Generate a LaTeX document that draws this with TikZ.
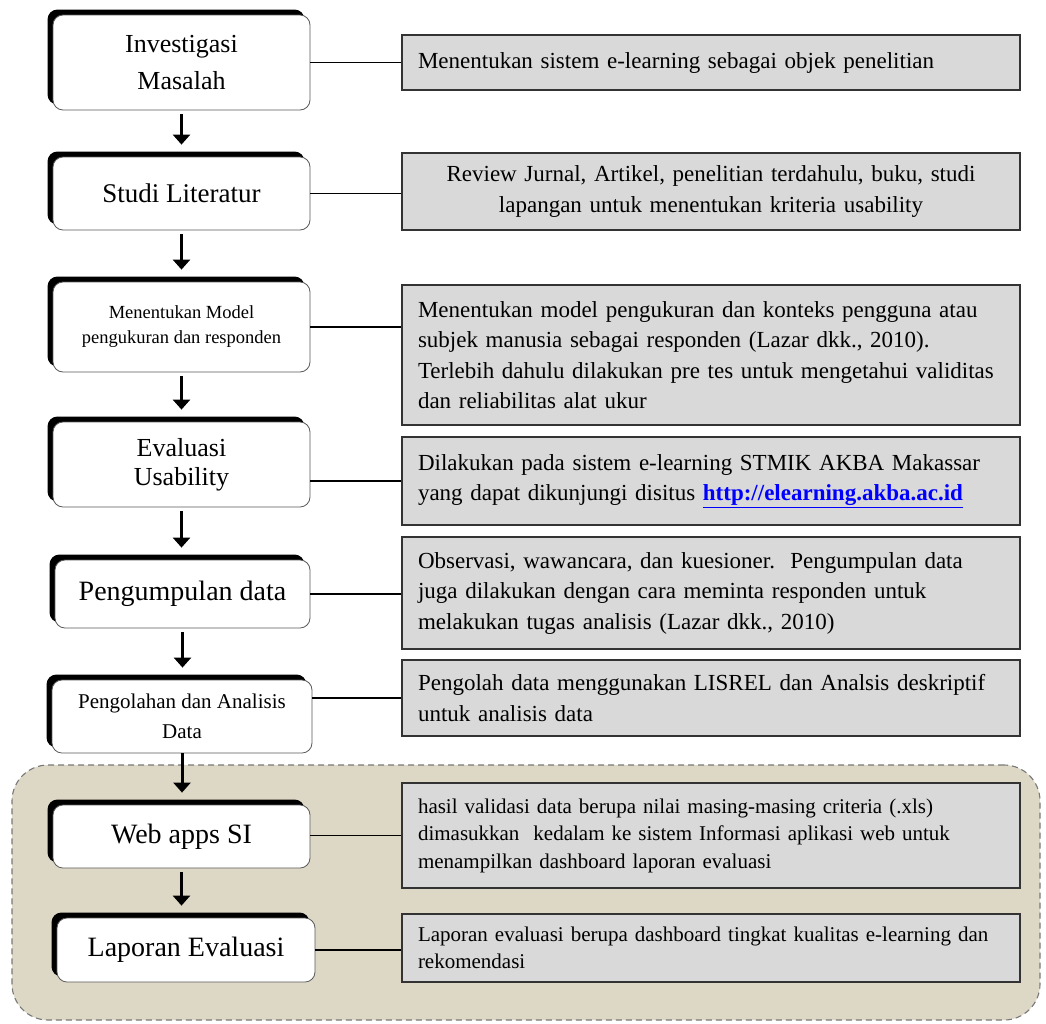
\documentclass[tikz,border=0pt]{standalone}
\usepackage{fontspec}
\setmainfont{Liberation Serif}
\usetikzlibrary{shadows,arrows.meta}
\definecolor{tanbg}{RGB}{221,216,197}
\definecolor{boxgray}{RGB}{217,217,217}
\definecolor{dashgray}{RGB}{120,120,120}
\newcommand\fsz[2]{\fontsize{#1}{#2}\selectfont}
\begin{document}
\begin{tikzpicture}[x=1pt,y=-1pt,
  lbox/.style={draw=black!65, line width=0.8pt, fill=white, rounded corners=10pt,
    minimum width=257pt, align=center,
    general shadow={fill=black, shadow xshift=-5.5pt, shadow yshift=5.5pt}},
  rbox/.style={draw=black!80, line width=1.3pt, fill=boxgray, text width=586pt,
    inner xsep=16pt, align=left, font=\fsz{23}{30.5}},
  grpbox/.style={draw=dashgray, dash pattern=on 6pt off 4pt, line width=1.1pt,
    fill=tanbg, rounded corners=36pt},
  arr/.style={line width=3pt, -{Triangle[width=17pt,length=10pt]},
    shorten <=4pt, shorten >=12pt},
  link/.style={line width=1.1pt}]
\useasboundingbox (0,0) rectangle (1046,1023);
\fill[white] (0,0) rectangle (1046,1023);

% group background
\node[grpbox, minimum width=1028pt, minimum height=255pt, inner sep=0pt] (grp) at (526,892.5) {};

% left boxes
\node[lbox, minimum height=95pt, font=\fsz{26}{37}] (l1) at (181.5,62.5) {Investigasi\\Masalah};
\node[lbox, minimum height=73pt, font=\fsz{27}{32}] (l2) at (181.5,193.5) {Studi Literatur};
\node[lbox, minimum height=90pt, font=\fsz{18.5}{25}] (l3) at (181.5,327) {Menentukan Model\\pengukuran dan responden};
\node[lbox, minimum height=85pt, font=\fsz{26}{29}] (l4) at (181.5,464.5) {Evaluasi\\Usability};
\node[lbox, minimum height=68pt, minimum width=255pt, font=\fsz{28}{32}] (l5) at (182.5,594) {Pengumpulan data};
\node[lbox, minimum height=73pt, minimum width=260pt, font=\fsz{21}{30}] (l6) at (182,716.5) {Pengolahan dan Analisis\\Data};
\node[lbox, minimum height=63pt, font=\fsz{28}{32}] (l7) at (181.5,836.5) {Web apps SI};
\node[lbox, minimum height=64pt, minimum width=258pt, font=\fsz{28}{32}] (l8) at (186,950) {Laporan Evaluasi};

% right boxes
\node[rbox, minimum height=55pt] (r1) at (711,62.5) {Menentukan sistem e-learning sebagai objek penelitian};
\node[rbox, minimum height=77pt, align=center] (r2) at (711,191.5) {Review Jurnal, Artikel, penelitian terdahulu, buku, studi\\lapangan untuk menentukan kriteria usability};
\node[rbox, minimum height=140pt] (r3) at (711,355) {Menentukan model pengukuran dan konteks pengguna atau\\subjek manusia sebagai responden (Lazar dkk., 2010).\\Terlebih dahulu dilakukan pre tes untuk mengetahui validitas\\dan reliabilitas alat ukur};
\node[rbox, minimum height=88pt] (r4) at (711,481) {Dilakukan pada sistem e-learning STMIK AKBA Makassar\\yang dapat dikunjungi disitus {\color{blue}\bfseries\underline{http://elearning.akba.ac.id}}};
\node[rbox, minimum height=112pt] (r5) at (711,593) {Observasi, wawancara, dan kuesioner.\ \ Pengumpulan data\\juga dilakukan dengan cara meminta responden untuk\\melakukan tugas analisis (Lazar dkk., 2010)};
\node[rbox, minimum height=76pt] (r6) at (711,698) {Pengolah data menggunakan LISREL dan Analsis deskriptif\\untuk analisis data};
\node[rbox, minimum height=105pt, font=\fsz{21}{27.5}] (r7) at (711,835.5) {hasil validasi data berupa nilai masing-masing criteria (.xls)\\dimasukkan\ \ kedalam ke sistem Informasi aplikasi web untuk\\menampilkan dashboard laporan evaluasi};
\node[rbox, minimum height=68pt, font=\fsz{21}{27.5}] (r8) at (711,948) {Laporan evaluasi berupa dashboard tingkat kualitas e-learning dan\\rekomendasi};

% connectors
\draw[link] (l1.east) -- (l1.east -| r1.west);
\draw[link] (l2.east) -- (l2.east -| r2.west);
\draw[link] (l3.east) -- (l3.east -| r3.west);
\draw[link] (r4.west -| l4.east) -- (r4.west);
\draw[link] (l5.east) -- (l5.east -| r5.west);
\draw[link] (r6.west -| l6.east) -- (r6.west);
\draw[link] (r7.west -| l7.east) -- (r7.west);
\draw[link] (l8.east) -- (l8.east -| r8.west);

% arrows
\draw[arr] (l1.south) -- (l1.south |- l2.north);
\draw[arr] (l2.south) -- (l2.south |- l3.north);
\draw[arr] (l3.south) -- (l3.south |- l4.north);
\draw[arr] (l4.south) -- (l4.south |- l5.north);
\draw[arr] (l5.south) -- (l5.south |- l6.north);
\draw[arr, shorten <=0pt] (l6.south) -- (l6.south |- l7.north);
\draw[arr] (l7.south) -- (l7.south |- l8.north);
\end{tikzpicture}
\end{document}
